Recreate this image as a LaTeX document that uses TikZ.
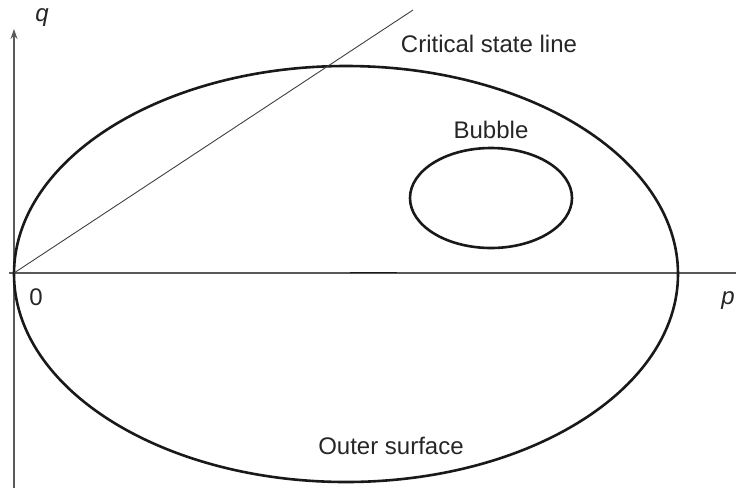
\documentclass[tikz,border=0pt]{standalone}
\usepackage{fontspec}
\setmainfont{Liberation Sans}
\usetikzlibrary{arrows.meta}
\begin{document}
\begin{tikzpicture}[x=1pt,y=-1pt,
  axis/.style={draw=black!65,line width=1.4pt},
  curve/.style={draw=black!90,line width=2.6pt},
  thinline/.style={draw=black!75,line width=0.9pt},
  lbl/.style={font=\fontsize{24}{28}\selectfont,text=black!85,inner sep=0pt},
  axlbl/.style={font=\fontsize{24}{28}\selectfont\itshape,text=black!85,inner sep=0pt}]
\useasboundingbox (0,0) rectangle (736,488);
\coordinate (O) at (14,273);
\coordinate (qbot) at (14,488);
\coordinate (qtop) at (14,29);
\coordinate (pleft) at (9,273);
\coordinate (pright) at (736,273);
\coordinate (cslend) at (413,10);
% axes
\draw[axis,-{Stealth[length=10pt,width=7pt]}] (qbot) -- (qtop);
\draw[axis] (pleft) -- (pright);
\draw[black!90,line width=1.6pt] (350,272.5) -- (397,272.5);
% outer surface
\draw[curve] (346,274) ellipse [x radius=332, y radius=208];
% critical state line
\draw[thinline] (O) -- (cslend);
% bubble
\draw[curve] (491,198) ellipse [x radius=81, y radius=50];
% labels
\node[axlbl] (q) at (42,18) {q};
\node[axlbl] (p) at (728,301) {p};
\node[lbl] (zero) at (36,297) {0};
\node[lbl] (csl) at (489,44) {Critical state line};
\node[lbl] (bub) at (491,130) {Bubble};
\node[lbl] (outer) at (391,446) {Outer surface};
\end{tikzpicture}
\end{document}
